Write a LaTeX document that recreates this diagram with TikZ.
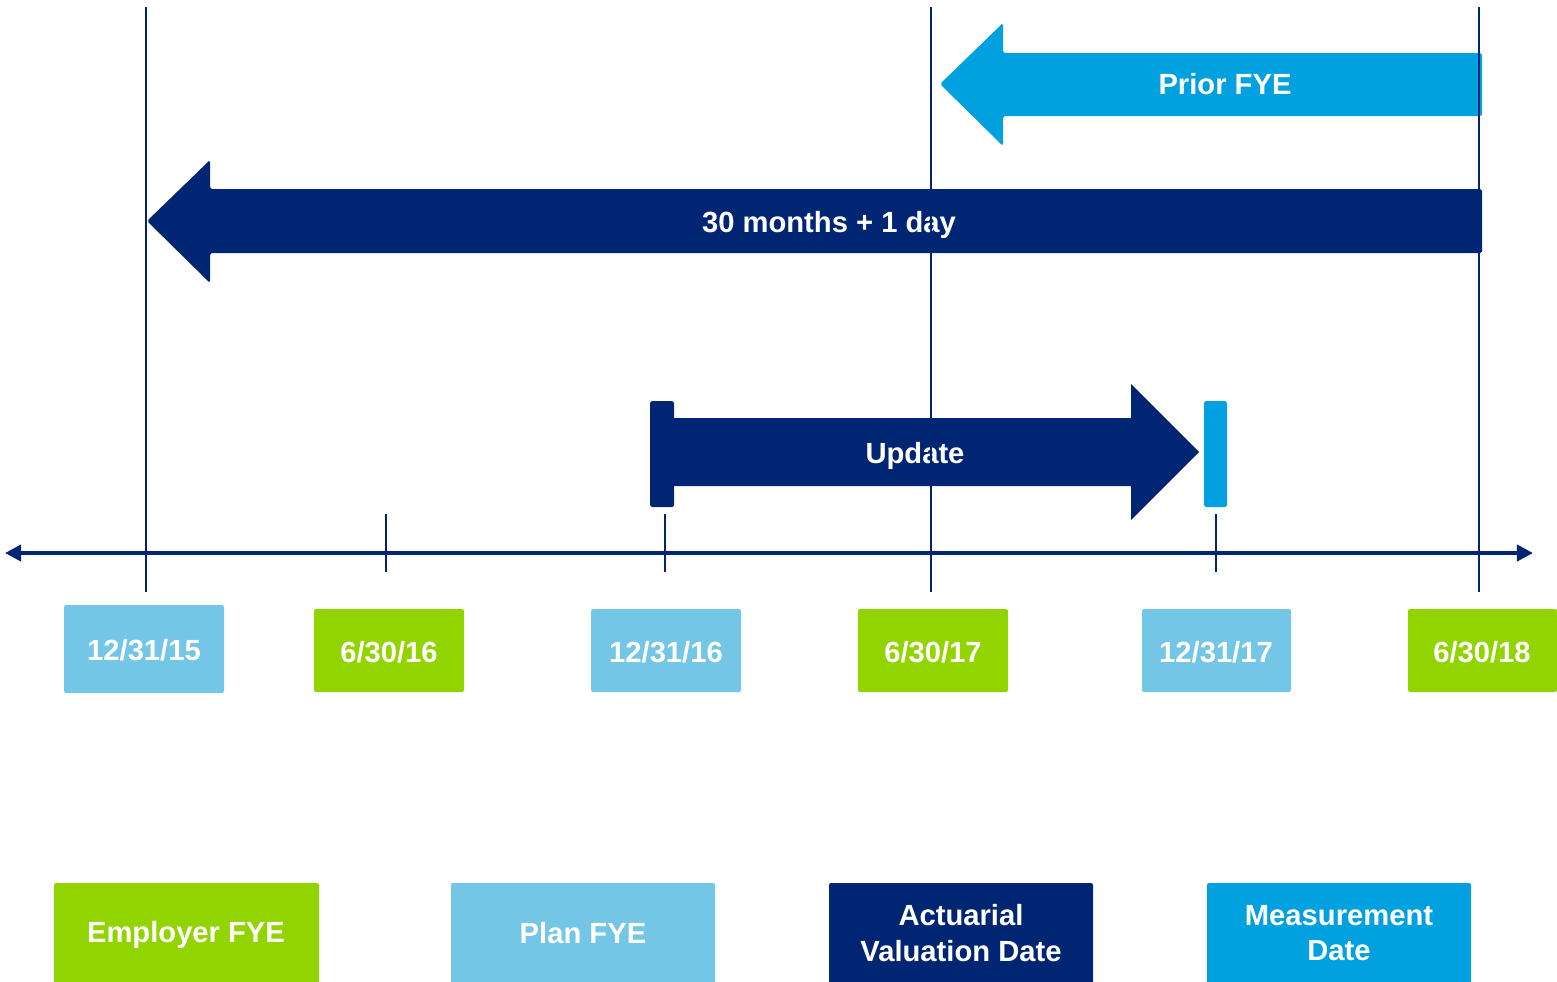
\documentclass[tikz,border=0pt]{standalone}
\usepackage{fontspec}
\setmainfont{Liberation Sans}
\usetikzlibrary{arrows.meta}
\definecolor{navy}{RGB}{0,38,115}
\definecolor{cyanb}{RGB}{0,161,222}
\definecolor{lblue}{RGB}{115,198,230}
\definecolor{lgreen}{RGB}{146,212,0}
\tikzset{
  lbl/.style={text=white,font=\bfseries\fontsize{8.3}{10}\selectfont,align=center,inner sep=0pt},
  datebox/.style={rounded corners=0.6pt,inner sep=0pt},
  vline/.style={draw=navy,line width=0.6pt},
  axisline/.style={draw=navy,line width=1.1pt,{Triangle[length=4.6pt,width=4.6pt]}-{Triangle[length=4.6pt,width=4.6pt]}},
  arrowshape/.style={rounded corners=0.5pt}
}
\begin{document}
\begin{tikzpicture}[x={(0.01cm,0)},y={(0,-0.01cm)}]
\useasboundingbox (0,0) rectangle (1557,981);
% Prior FYE arrow
\fill[cyanb,arrowshape] (940,84) -- (1003,23) -- (1003,53) -- (1482,53) -- (1482,116) -- (1003,116) -- (1003,146) -- cycle;
\node[lbl] (prior) at (1225,84) {Prior FYE};
% 30 months arrow
\fill[navy,arrowshape] (147,221) -- (210,160) -- (210,189) -- (1482,189) -- (1482,253) -- (210,253) -- (210,283) -- cycle;
\node[lbl] (months) at (829,225) {30 months + 1 day};
% Update arrow
\fill[navy,arrowshape] (650,401) rectangle (674,507);
\fill[navy] (673,418) -- (1131,418) -- (1131,384) -- (1199,452) -- (1131,520) -- (1131,486) -- (673,486) -- cycle;
\fill[cyanb,arrowshape] (1204,401) rectangle (1227,507);
\node[lbl] (update) at (915,456) {Update};
% axis
\coordinate (axL) at (5,553);
\coordinate (axR) at (1533,553);
\draw[axisline] (axL) -- (axR);
% tall lines
\foreach \xx/\nm in {146/a,931/b,1479/c}{
  \coordinate (t\nm) at (\xx,7);
  \coordinate (b\nm) at (\xx,592);
  \draw[vline] (t\nm) -- (b\nm);
}
% short ticks
\foreach \xx/\nm in {386/d,665/e,1216/f}{
  \coordinate (t\nm) at (\xx,514);
  \coordinate (b\nm) at (\xx,572);
  \draw[vline] (t\nm) -- (b\nm);
}
% date boxes
\fill[lblue,datebox] (64,605) rectangle (224,693);
\node[lbl] (d1) at (144,650) {12/31/15};
\fill[lgreen,datebox] (314,609) rectangle (464,692);
\node[lbl] (d2) at (389,652) {6/30/16};
\fill[lblue,datebox] (591,609) rectangle (741,692);
\node[lbl] (d3) at (666,652) {12/31/16};
\fill[lgreen,datebox] (858,609) rectangle (1008,692);
\node[lbl] (d4) at (933,652) {6/30/17};
\fill[lblue,datebox] (1142,609) rectangle (1291,692);
\node[lbl] (d5) at (1216,652) {12/31/17};
\fill[lgreen,datebox] (1408,609) rectangle (1557,692);
\node[lbl] (d6) at (1482,652) {6/30/18};
% legend
\fill[lgreen,datebox] (54,883) rectangle (319,985);
\node[lbl] (l1) at (186,935) {Employer FYE};
\fill[lblue,datebox] (451,883) rectangle (715,985);
\node[lbl] (l2) at (583,933) {Plan FYE};
\fill[navy,datebox] (829,883) rectangle (1093,985);
\node[lbl] (l3) at (961,933) {Actuarial\\Valuation Date};
\fill[cyanb,datebox] (1207,883) rectangle (1471,985);
\node[lbl] (l4) at (1339,933) {Measurement\\Date};
\end{tikzpicture}
\end{document}
